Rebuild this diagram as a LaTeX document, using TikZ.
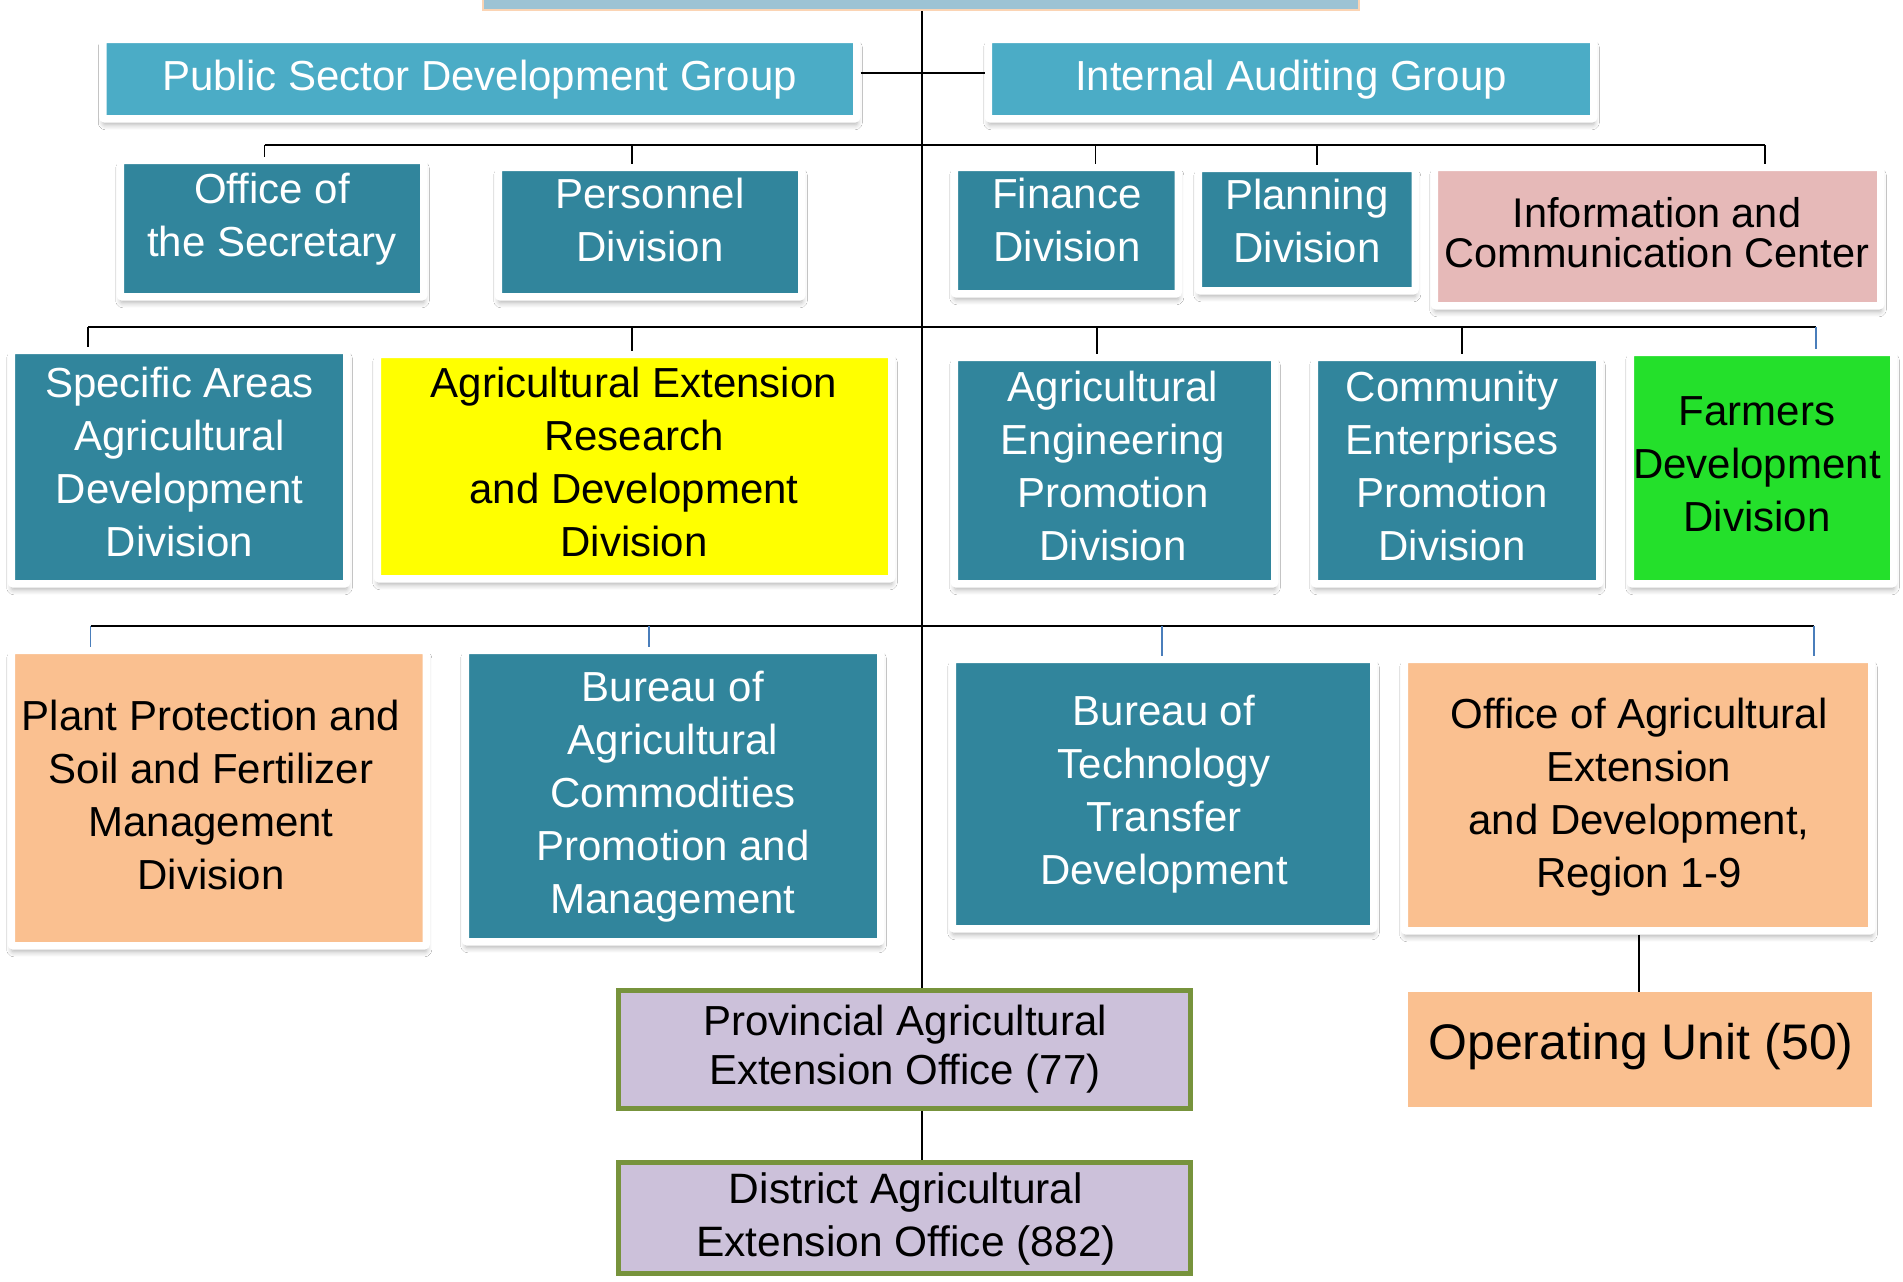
\documentclass[tikz,border=0pt]{standalone}
\usepackage{fontspec}
\setmainfont{Liberation Sans}
\usetikzlibrary{shadows,shadows.blur}
\definecolor{grpblue}{HTML}{4BACC6}
\definecolor{tealc}{HTML}{31859C}
\definecolor{pinkc}{HTML}{E6B9B8}
\definecolor{yellowc}{HTML}{FFFF00}
\definecolor{greenc}{HTML}{24E02B}
\definecolor{peachc}{HTML}{FAC090}
\definecolor{lavc}{HTML}{CCC1DA}
\definecolor{olivec}{HTML}{77933C}
\definecolor{tickblue}{HTML}{4A7EBB}
\definecolor{topblue}{HTML}{9DC3D4}
\definecolor{topline}{HTML}{FBD4B4}
\tikzset{
  box/.style={draw=white, line width=7.5pt, rounded corners=2pt, inner sep=0pt,
    blur shadow={shadow xshift=0.5pt, shadow yshift=-6pt, shadow blur radius=5pt, shadow blur steps=6, shadow opacity=30}},
  wt/.style={text=white, font=\fontsize{42}{53}\selectfont, align=center, inner sep=0pt,
    execute at begin node=\strut, execute at end node=\strut},
  bt/.style={wt, text=black},
  bus/.style={line width=2.4pt, draw=black},
  spine/.style={line width=2pt, draw=black},
  tick/.style={line width=1.8pt, draw=black},
  btick/.style={line width=1.5pt, draw=tickblue},
}
\begin{document}
\begin{tikzpicture}[x=1pt,y=-1pt]
\useasboundingbox[fill=white] (0,0) rectangle (1903,1282);

% top box (cropped)
\node[fill=topblue, draw=topline, line width=2pt, minimum width=876pt, minimum height=30pt, inner sep=0pt] (top) at (921,-5) {};

% groups
\node[box, fill=grpblue, minimum width=754pt, minimum height=79.5pt] (psdg) at (479.75,79) {};
\node[wt] (psdgT) at (479.5,79.5) {Public Sector Development Group};
\node[box, fill=grpblue, minimum width=605.5pt, minimum height=79.5pt] (iag) at (1291,79) {};
\node[wt] (iagT) at (1291,80) {Internal Auditing Group};

% row 1
\node[box, fill=tealc, minimum width=303.5pt, minimum height=136.5pt] (osec) at (272,228.5) {};
\node[wt] (osecT) at (272,222.5) {Office of\\the Secretary};
\node[box, fill=tealc, minimum width=303.5pt, minimum height=129.5pt] (pers) at (650,232) {};
\node[wt] (persT) at (650,228) {Personnel\\Division};
\node[box, fill=tealc, minimum width=224pt, minimum height=126.5pt] (fin) at (1066.25,230.5) {};
\node[wt] (finT) at (1067,228) {Finance\\Division};
\node[box, fill=tealc, minimum width=217pt, minimum height=122.5pt] (plan) at (1306.75,229.5) {};
\node[wt] (planT) at (1307,229) {Planning\\Division};
\node[box, fill=pinkc, minimum width=446.5pt, minimum height=138.5pt] (icc) at (1657.5,236.5) {};
\node[bt, font=\fontsize{41.5}{40}\selectfont] (iccT) at (1657,238) {Information and\\Communication Center};

% row 2
\node[box, fill=tealc, minimum width=335.5pt, minimum height=233.5pt] (sa) at (179,467) {};
\node[wt] (saT) at (179.5,470) {Specific Areas\\Agricultural\\Development\\Division};
\node[box, fill=yellowc, minimum width=514.5pt, minimum height=224.5pt] (aer) at (634.5,466.5) {};
\node[bt] (aerT) at (634,470) {Agricultural Extension\\Research\\and Development\\Division};
\node[box, fill=tealc, minimum width=320.5pt, minimum height=226.5pt] (ae) at (1114.5,470.5) {};
\node[wt] (aeT) at (1113,473.7) {Agricultural\\Engineering\\Promotion\\Division};
\node[box, fill=tealc, minimum width=285.5pt, minimum height=226.5pt] (ce) at (1457,470.5) {};
\node[wt] (ceT) at (1452,473.7) {Community\\Enterprises\\Promotion\\Division};
\node[box, fill=greenc, minimum width=263.5pt, minimum height=231.5pt] (fd) at (1762,468) {};
\node[bt] (fdT) at (1757,472.4) {Farmers\\Development\\Division};

% row 3
\node[box, fill=peachc, minimum width=415pt, minimum height=295.5pt] (pp) at (218.75,798) {};
\node[bt] (ppT) at (211,803.2) {Plant Protection and\\Soil and Fertilizer\\Management\\Division};
\node[box, fill=tealc, minimum width=415.5pt, minimum height=291.5pt] (bac) at (673,796) {};
\node[wt] (bacT) at (673,800.4) {Bureau of\\Agricultural\\Commodities\\Promotion and\\Management};
\node[box, fill=tealc, minimum width=421.5pt, minimum height=269.5pt] (bttd) at (1163,794) {};
\node[wt] (bttdT) at (1164,797.7) {Bureau of\\Technology\\Transfer\\Development};
\node[box, fill=peachc, minimum width=467.5pt, minimum height=271.5pt] (oaed) at (1638,795) {};
\node[bt] (oaedT) at (1639,800.7) {Office of Agricultural\\Extension\\and Development,\\Region 1-9};

% bottom
\node[fill=lavc, draw=olivec, line width=4.5pt, minimum width=572pt, minimum height=118pt, inner sep=0pt] (prov) at (904.5,1049.5) {};
\node[bt, font=\fontsize{42}{48.7}\selectfont] (provT) at (905,1052) {Provincial Agricultural\\Extension Office (77)};
\node[fill=lavc, draw=olivec, line width=4.5pt, minimum width=572pt, minimum height=111pt, inner sep=0pt] (dist) at (904.5,1218) {};
\node[bt, font=\fontsize{42.5}{53.3}\selectfont] (distT) at (906,1222.6) {District Agricultural\\Extension Office (882)};
\node[fill=peachc, minimum width=464pt, minimum height=115pt, inner sep=0pt] (ou) at (1640,1049.5) {};
\node[bt, font=\fontsize{50}{59}\selectfont] (ouT) at (1641,1047.5) {Operating Unit (50)};

% connectors
\coordinate (spx) at (922,0);
\coordinate (lv1) at (0,73);
\draw[spine] (top.south -| spx) -- (prov.north -| spx);
\draw[bus] (psdg.east |- lv1) -- (iag.west |- lv1);

\coordinate (r1a) at (264.5,145);
\coordinate (r1b) at (632,145);
\coordinate (r1c) at (1095.5,145);
\coordinate (r1d) at (1317,145);
\coordinate (r1e) at (1765,145);
\draw[bus] (r1a) -- (r1e);
\draw[tick] (r1a) -- (r1a |- osec.north);
\draw[tick] (r1b) -- (r1b |- pers.north);
\draw[tick] (r1c) -- (r1c |- fin.north);
\draw[tick] (r1d) -- (r1d |- plan.north);
\draw[tick] (r1e) -- (r1e |- icc.north);

\coordinate (r2a) at (88,327);
\coordinate (r2b) at (632,327);
\coordinate (r2c) at (1097,327);
\coordinate (r2d) at (1462,327);
\coordinate (r2e) at (1816,327);
\draw[bus] (r2a) -- (r2e);
\draw[tick] (r2a) -- (r2a |- sa.north);
\draw[tick] (r2b) -- (r2b |- aer.north);
\draw[tick] (r2c) -- (r2c |- ae.north);
\draw[tick] (r2d) -- (r2d |- ce.north);
\draw[btick] (r2e) -- (r2e |- fd.north);

\coordinate (r3a) at (90.6,626);
\coordinate (r3b) at (649,626);
\coordinate (r3c) at (1162,626);
\coordinate (r3d) at (1814,626);
\draw[bus] (r3a) -- (r3d);
\draw[btick] (r3a) -- (r3a |- pp.north);
\draw[btick] (r3b) -- (r3b |- bac.north);
\draw[btick] (r3c) -- (r3c |- bttd.north);
\draw[btick] (r3d) -- (r3d |- oaed.north);

\coordinate (ouc) at (1639,0);
\draw[tick] (oaed.south -| ouc) -- (ou.north -| ouc);
\draw[spine] (prov.south -| spx) -- (dist.north -| spx);
\end{tikzpicture}
\end{document}
